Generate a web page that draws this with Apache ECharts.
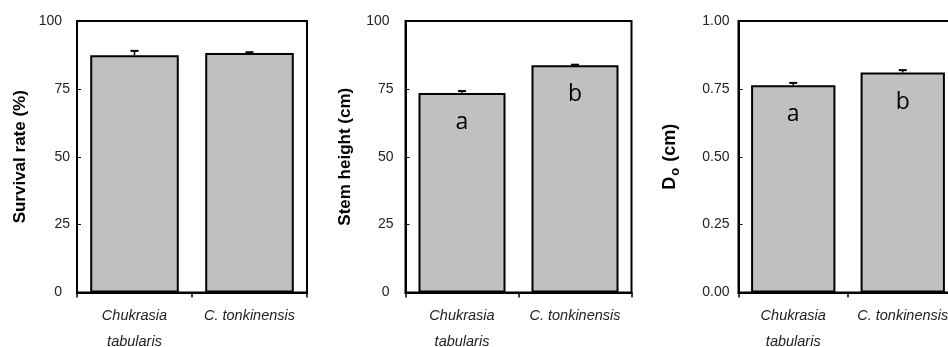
<!DOCTYPE html>
<html><head><meta charset="utf-8">
<script src="https://cdn.jsdelivr.net/npm/echarts@6/dist/echarts.min.js"></script>
<style>html,body{margin:0;padding:0;background:#fff}#c{width:948px;height:347px}</style>
</head><body><div id="c"></div>
<script>
const categories = ['Chukrasia\ntabularis', 'C. tonkinensis'];
const survival = [87.4, 88.2];
const survivalErr = [1.6, 0.3];
const height = [73.5, 83.7];
const heightErr = [0.7, 0.2];
const diam = [0.763, 0.810];
const diamErr = [0.009, 0.009];
const heightLetters = ['a', 'b'];
const diamLetters = ['a', 'b'];
const ticks100 = [0, 25, 50, 75, 100];
const ticks1 = [0, 0.25, 0.5, 0.75, 1.0];

const FONT = 'Liberation Sans';
const chart = echarts.init(document.getElementById('c'));

const grids = [
  {left: 77, top: 21, width: 230, height: 271.5},
  {left: 405.5, top: 21, width: 226, height: 271.5},
  {left: 738.5, top: 21, width: 219, height: 271.5}
];
const names = [
  'Survival rate (%)',
  'Stem height (cm)',
  '{d|D}{o|o}{d| (cm)}'
];
const gaps = [48, 52, 57];
const maxes = [100, 100, 1];
const intervals = [25, 25, 0.25];
const vals = [survival, height, diam];
const errs = [survivalErr, heightErr, diamErr];
const letters = [null, heightLetters, diamLetters];
const labelMargins = [7, 12, 9];
const endPads = [8, 4, 0];

const option = {
  animation: false,
  grid: grids.map(g => Object.assign({show: true, borderColor: '#000', borderWidth: 2, backgroundColor: 'transparent', outerBoundsMode: 'none', containLabel: false}, g)),
  xAxis: grids.map((g, i) => ({
    type: 'category', gridIndex: i, data: categories,
    axisLine: {lineStyle: {color: '#000', width: 2}},
    axisTick: {show: true, inside: false, length: 5, lineStyle: {color: '#000', width: 1.5}},
    axisLabel: {fontFamily: FONT, fontStyle: 'italic', fontSize: 14.5, color: '#222', margin: 10, lineHeight: 26, interval: 0, hideOverlap: false}
  })),
  yAxis: grids.map((g, i) => ({
    type: 'value', gridIndex: i, min: 0, max: maxes[i], interval: intervals[i],
    splitLine: {show: false},
    axisLine: {show: true, lineStyle: {color: '#000', width: 2}},
    axisTick: {show: true, inside: true, length: 4, lineStyle: {color: '#000', width: 1}},
    axisLabel: {fontFamily: FONT, fontSize: 14, color: '#222', margin: labelMargins[i],
      formatter: v => {
        const s = i === 2 ? v.toFixed(2) : String(v);
        return (v === 0 || v === maxes[i]) ? '{e|' + s + '}' : s;
      },
      rich: {e: {fontFamily: FONT, fontSize: 14, color: '#222', padding: [0, endPads[i], 0, 0]}}
    },
    name: names[i], nameLocation: 'middle', nameGap: gaps[i], nameRotate: 90,
    nameTextStyle: {fontFamily: FONT, fontWeight: 'bold', fontSize: 17, color: '#000',
      rich: {
        d: {fontFamily: FONT, fontWeight: 'bold', fontSize: 18, color: '#000'},
        o: {fontFamily: FONT, fontWeight: 'bold', fontSize: 13, color: '#000', padding: [9, 1, 0, 1]}
      }}
  })),
  series: []
};

vals.forEach((v, i) => {
  option.series.push({
    type: 'bar', xAxisIndex: i, yAxisIndex: i, data: v, barWidth: '77%', z: 2,
    itemStyle: {color: '#c0c0c0', borderColor: '#000', borderWidth: 2},
    label: letters[i] ? {
      show: true, position: 'insideTop', distance: 18,
      formatter: p => letters[i][p.dataIndex],
      fontFamily: 'Open Sans', fontSize: 23, color: '#000'
    } : {show: false}
  });
  option.series.push({
    type: 'custom', xAxisIndex: i, yAxisIndex: i, z: 3,
    data: v.map((y, k) => [k, y, y + errs[i][k]]),
    renderItem: (params, api) => {
      const p0 = api.coord([api.value(0), api.value(1)]);
      const p1 = api.coord([api.value(0), api.value(2)]);
      return {type: 'group', children: [
        {type: 'line', shape: {x1: p0[0], y1: p0[1], x2: p1[0], y2: p1[1]}, style: {stroke: '#000', lineWidth: 1.5}},
        {type: 'line', shape: {x1: p1[0] - 4, y1: p1[1], x2: p1[0] + 4, y2: p1[1]}, style: {stroke: '#000', lineWidth: 2}}
      ]};
    }
  });
});

chart.setOption(option);
</script></body></html>
